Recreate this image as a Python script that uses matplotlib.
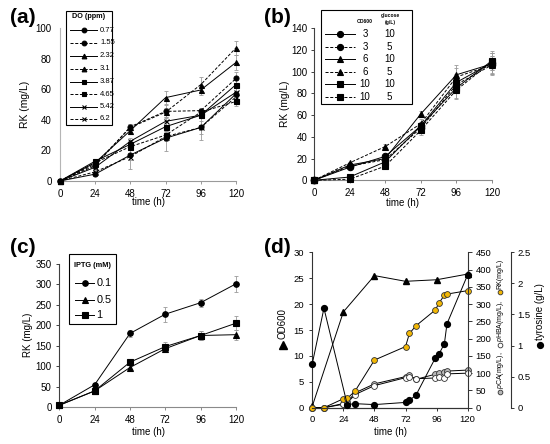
import matplotlib
matplotlib.use("Agg")
import matplotlib.pyplot as plt
from matplotlib.patches import Rectangle

W, H = 550, 444  # figure size in pixels (dpi 100)

plt.rcParams["font.family"] = ["Liberation Sans", "DejaVu Sans"]
plt.rcParams["lines.scale_dashes"] = False
plt.rcParams["mathtext.fontset"] = "custom"
plt.rcParams["mathtext.rm"] = "Liberation Sans"
plt.rcParams["mathtext.it"] = "Liberation Sans:italic"

DASH = (0, (2.2, 1.2))
ERR_COLOR = "#9a9a9a"
ORANGE = "#f2b705"

TIME = [0, 24, 48, 72, 96, 120]
TIME_TICKS = [0, 24, 48, 72, 96, 120]

# ── (a) DO screening ─────────────────────────────────────────────────────────
DO_LABELS = ["0.77", "1.55", "2.32", "3.1", "3.87", "4.65", "5.42", "6.2"]
DO_RK = [
    [0, 4.5, 17, 28, 35, 57],
    [0, 10, 35.5, 45.5, 46, 67],
    [0, 12, 33, 54.5, 59.5, 77.5],
    [0, 11, 35, 45, 63, 87],
    [0, 13, 24, 35.5, 43, 63],
    [0, 12, 22.5, 30, 45, 52],
    [0, 9, 26, 39, 43, 58],
    [0, 6, 16, 29, 35, 55],
]
DO_ERR = [
    [0, 1, 9, 8.5, 8, 4],
    [0, 1.5, 2, 4, 2, 4],
    [0, 1, 2, 4.5, 3, 5],
    [0, 1, 2, 3, 5, 4.5],
    [0, 1, 2, 3, 2, 4],
    [0, 1, 2, 3, 2, 3],
    [0, 1, 2, 3, 2, 3],
    [0, 1, 2, 3, 4, 3],
]
DO_MARKERS = ["o", "o", "^", "^", "s", "s", "x", "x"]

# ── (b) inoculum OD600 / glucose ─────────────────────────────────────────────
OD_LABELS = ["3", "3", "6", "6", "10", "10"]
GLC_LABELS = ["10", "5", "10", "5", "10", "5"]
OD_RK = [
    [0, 12, 22, 50, 90, 108],
    [0, 13, 19, 48, 88, 106],
    [0, 14, 20, 61, 97, 107],
    [0, 16, 31, 52, 95, 106],
    [0, 3, 17, 50, 85, 110],
    [0, 1, 13, 46, 83, 109],
]
OD_ERR = [
    [0, 1, 2, 4, 8, 9],
    [0, 1, 2, 4, 6, 8],
    [0, 1, 2, 3, 9, 10],
    [0, 1, 2, 4, 8, 8],
    [0, 1, 2, 4, 9, 9],
    [0, 1, 2, 4, 8, 8],
]
OD_MARKERS = ["o", "o", "^", "^", "s", "s"]

# ── (c) IPTG ─────────────────────────────────────────────────────────────────
IPTG_LABELS = ["0.1", "0.5", "1"]
IPTG_RK = [
    [5, 55, 180, 227, 255, 301],
    [5, 40, 97, 143, 175, 177],
    [5, 40, 110, 148, 175, 205],
]
IPTG_ERR = [
    [0, 4, 8, 18, 10, 20],
    [0, 3, 6, 8, 10, 12],
    [0, 3, 8, 10, 12, 17],
]
IPTG_MARKERS = ["o", "^", "s"]

# ── (d) fed-batch time course ────────────────────────────────────────────────
T_OD = [0, 24, 48, 72, 96, 120]
OD600 = [0.3, 18.5, 25.5, 24.4, 24.7, 25.8]

T_PROD = [0, 9, 24, 27, 33, 48, 72, 75, 80, 95, 98, 102, 104, 120]
RK_D = [0, 0, 26, 27, 48, 138, 177, 215, 237, 283, 304, 326, 329, 339]
PCA_D = [0, 0, 12, 16, 43, 69, 90, 94, 82, 97, 100, 102, 106, 109]
PHBA_D = [0, 0, 10, 14, 38, 64, 87, 89, 84, 86, 89, 86, 98, 100]

T_TYR = [0, 9, 27, 33, 48, 72, 75, 80, 95, 98, 102, 104, 120]
TYR = [0.71, 1.6, 0.05, 0.065, 0.05, 0.085, 0.12, 0.2, 0.8, 0.87, 1.03, 1.35, 2.14]


def axes_px(fig, x0, y_top, x1, y_bottom):
    """Add an axes from a pixel box (origin top-left)."""
    return fig.add_axes([x0 / W, 1 - y_bottom / H, (x1 - x0) / W, (y_bottom - y_top) / H])


def style_axes(ax, left_color, bottom_color, ylen, ypad, fs=7):
    for s in ("top", "right"):
        ax.spines[s].set_visible(False)
    ax.spines["left"].set_color(left_color)
    ax.spines["bottom"].set_color(bottom_color)
    for s in ("left", "bottom"):
        ax.spines[s].set_linewidth(0.8)
    ax.tick_params(axis="y", length=ylen, width=0.7, pad=ypad, labelsize=fs, color=left_color)
    ax.tick_params(axis="x", length=2.5, width=0.7, pad=3, labelsize=fs, color=bottom_color)
    ax.set_xlim(0, 120)
    ax.set_xticks(TIME_TICKS)


def draw_series(ax, ys, errs, markers, ms, solid_dashed=True):
    for i, (y, e, m) in enumerate(zip(ys, errs, markers)):
        ls = "-" if (i % 2 == 0 or not solid_dashed) else DASH
        ax.errorbar(TIME, y, yerr=e, fmt="none", ecolor=ERR_COLOR, elinewidth=0.6,
                    capsize=1.6, capthick=0.6, zorder=1, clip_on=False)
        ax.plot(TIME, y, color="black", lw=0.7, ls=ls, marker=m, ms=ms,
                mew=0.8, zorder=3, clip_on=False)


def legend_line(ov, x0, x1, y, marker, ls, ms):
    ov.plot([x0, x1], [y, y], color="black", lw=0.7, ls=ls, clip_on=False)
    ov.plot([(x0 + x1) / 2], [y], color="black", marker=marker, ms=ms, mew=0.8,
            clip_on=False)


def legend_box(ov, x0, y0, x1, y1):
    ov.add_patch(Rectangle((x0, y0), x1 - x0, y1 - y0, fill=True, fc="white",
                           ec="black", lw=0.8, clip_on=False, zorder=0))


fig = plt.figure(figsize=(W / 100, H / 100), dpi=100)

# ── panel (a) ────────────────────────────────────────────────────────────────
ax_a = axes_px(fig, 60, 28, 236, 181)
draw_series(ax_a, DO_RK, DO_ERR, DO_MARKERS, ms=3.6)
ax_a.set_ylim(0, 100)
ax_a.set_yticks(range(0, 101, 20))
style_axes(ax_a, "#b5b5b5", "#9a9a9a", ylen=0, ypad=6)

# ── panel (b) ────────────────────────────────────────────────────────────────
ax_b = axes_px(fig, 314, 28, 492, 180.3)
draw_series(ax_b, OD_RK, OD_ERR, OD_MARKERS, ms=4.6)
ax_b.set_ylim(0, 140)
ax_b.set_yticks(range(0, 141, 20))
style_axes(ax_b, "#404040", "#8a8a8a", ylen=2.5, ypad=2.3)

# ── panel (c) ────────────────────────────────────────────────────────────────
ax_c = axes_px(fig, 59.3, 263.7, 236, 407.3)
draw_series(ax_c, IPTG_RK, IPTG_ERR, IPTG_MARKERS, ms=4.0, solid_dashed=False)
ax_c.set_ylim(0, 350)
ax_c.set_yticks(range(0, 351, 50))
style_axes(ax_c, "#404040", "#8a8a8a", ylen=2, ypad=3.5)

# ── panel (d) ────────────────────────────────────────────────────────────────
ax_d = axes_px(fig, 312.3, 252.3, 467.7, 407.7)
ax_d2 = ax_d.twinx()
ax_d3 = ax_d.twinx()

ax_d.plot(T_OD, OD600, color="black", lw=0.7, marker="^", ms=4.2, zorder=3, clip_on=False)
ax_d2.plot(T_PROD, PCA_D, color="black", lw=0.7, marker="o", ms=4.2, mfc="#b8b8b8",
           mec="#333333", mew=0.6, clip_on=False)
ax_d2.plot(T_PROD, PHBA_D, color="black", lw=0.7, marker="o", ms=4.2, mfc="white",
           mec="#333333", mew=0.6, clip_on=False)
ax_d2.plot(T_PROD, RK_D, color="black", lw=0.7, marker="o", ms=4.2, mfc=ORANGE,
           mec="#333333", mew=0.6, clip_on=False)
ax_d3.plot(T_TYR, TYR, color="black", lw=0.7, marker="o", ms=4.2, mfc="black",
           mec="black", clip_on=False)

ax_d.set_xlim(0, 120)
ax_d.set_xticks(TIME_TICKS)
ax_d.set_ylim(0, 30)
ax_d.set_yticks(range(0, 31, 5))
ax_d2.set_ylim(0, 450)
ax_d2.set_yticks(range(0, 451, 50))
ax_d3.set_ylim(0, 2.5)
ax_d3.set_yticks([0, 0.5, 1, 1.5, 2, 2.5])
ax_d3.set_yticklabels(["0", "0.5", "1", "1.5", "2", "2.5"])
ax_d3.spines["right"].set_position(("axes", 1.279))

for a in (ax_d, ax_d2, ax_d3):
    a.spines["top"].set_visible(False)
    for s in ("left", "right", "bottom"):
        a.spines[s].set_color("#333333")
        a.spines[s].set_linewidth(0.8)
ax_d2.spines["left"].set_visible(False)
ax_d3.spines["left"].set_visible(False)
ax_d3.spines["bottom"].set_visible(False)
ax_d.spines["right"].set_visible(False)
ax_d.tick_params(axis="y", length=2.5, width=0.7, pad=3.3, labelsize=6.8, color="#333333")
ax_d.tick_params(axis="x", length=2.5, width=0.7, pad=3, labelsize=6.8, color="#333333")
ax_d2.tick_params(axis="y", length=3, width=0.7, pad=2.6, labelsize=6.8, color="#333333")
ax_d3.tick_params(axis="y", length=2.5, width=0.7, pad=2.3, labelsize=6.8, color="#333333")

# ── overlay in pixel coordinates: legends, panel letters, axis titles ────────
ov = fig.add_axes([0, 0, 1, 1], zorder=10)
ov.set_xlim(0, W)
ov.set_ylim(H, 0)
ov.axis("off")
ov.patch.set_alpha(0)

# legend (a)
legend_box(ov, 66, 11, 112, 125)
ov.text(89, 16, "DO (ppm)", ha="center", va="center", fontsize=5.2, fontweight="bold")
rows_a = [30, 42.7, 55.7, 69, 81.7, 94.3, 106.7, 118.7]
for i, (y, lab, m) in enumerate(zip(rows_a, DO_LABELS, DO_MARKERS)):
    legend_line(ov, 70, 97, y, m, "-" if i % 2 == 0 else DASH, 3.4)
    ov.text(100, y, lab, ha="left", va="center", fontsize=5.5)

# legend (b)
legend_box(ov, 320.7, 10, 411.7, 104)
ov.text(365, 21.5, "OD600", ha="center", va="center", fontsize=3.6, fontweight="bold")
ov.text(390, 15, "glucose", ha="center", va="center", fontsize=3.6, fontweight="bold")
ov.text(390, 22.5, "(g/L)", ha="center", va="center", fontsize=3.6, fontweight="bold")
rows_b = [34.3, 46.7, 59.3, 71.7, 84.3, 96.7]
for i, (y, od, glc, m) in enumerate(zip(rows_b, OD_LABELS, GLC_LABELS, OD_MARKERS)):
    legend_line(ov, 325, 355, y, m, "-" if i % 2 == 0 else DASH, 4.4)
    ov.text(365, y, od, ha="center", va="center", fontsize=7)
    ov.text(389.5, y, glc, ha="center", va="center", fontsize=7)

# legend (c)
legend_box(ov, 69, 254.3, 116, 323.7)
ov.text(92.5, 265.5, "IPTG (mM)", ha="center", va="center", fontsize=5.3, fontweight="bold")
rows_c = [283, 299.7, 314.7]
for y, lab, m in zip(rows_c, IPTG_LABELS, IPTG_MARKERS):
    legend_line(ov, 75, 94, y, m, "-", 4.0)
    ov.text(96.5, y, lab, ha="left", va="center", fontsize=7.8)

# panel letters
for x, y, s in [(23, 17.5, "(a)"), (277, 17.5, "(b)"), (22.5, 247, "(c)"), (277, 247, "(d)")]:
    ov.text(x, y, s, ha="center", va="center", fontsize=15, fontweight="bold")

# axis titles
ov.text(25, 104.5, "RK (mg/L)", rotation=90, ha="center", va="center", fontsize=7.5)
ov.text(148, 202, "time (h)", ha="center", va="center", fontsize=7)
ov.text(285, 104, "RK (mg/L)", rotation=90, ha="center", va="center", fontsize=7.3)
ov.text(403, 202.5, "time (h)", ha="center", va="center", fontsize=7)
ov.text(28.3, 335, "RK (mg/L)", rotation=90, ha="center", va="center", fontsize=7)
ov.text(148, 431.5, "time (h)", ha="center", va="center", fontsize=7)
ov.text(390, 432, "time (h)", ha="center", va="center", fontsize=7)

# (d) left title: triangle + OD600
ov.plot([283], [345], marker="^", ms=5.2, color="black", clip_on=False)
ov.text(283, 339, "OD600", rotation=90, rotation_mode="anchor", ha="left", va="center",
        fontsize=7)

# (d) right title 1: coloured circles + product names
LX = 500
for y, fc in [(392, "#b8b8b8"), (345, "white"), (292, ORANGE)]:
    ov.plot([LX], [y], marker="o", ms=3.4, mfc=fc, mec="#333333", mew=0.6, clip_on=False)
for y, s in [(388.5, r"$\it{p}$CA(mg/L),"), (341.5, r"$\it{p}$HBA(mg/L),"), (288.5, "RK(mg/L)")]:
    ov.text(LX, y, s, rotation=90, rotation_mode="anchor", ha="left", va="center",
            fontsize=5)

# (d) right title 2: tyrosine
ov.plot([540], [345], marker="o", ms=4.2, color="black", clip_on=False)
ov.text(540, 340, "tyrosine (g/L)", rotation=90, rotation_mode="anchor", ha="left",
        va="center", fontsize=7)

fig.savefig("out.png", dpi=100)
